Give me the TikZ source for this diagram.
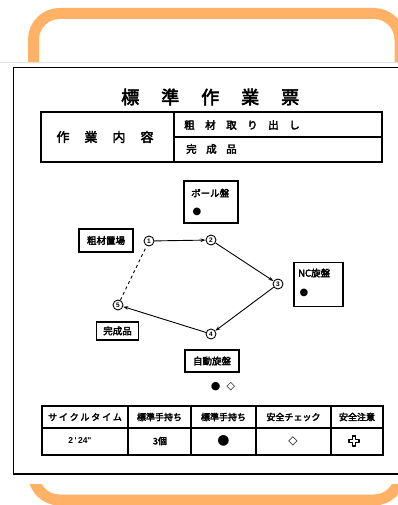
\documentclass[tikz,border=0pt]{standalone}
\usepackage{fontspec}
\usetikzlibrary{arrows.meta}
\newfontfamily\jp{Noto Sans CJK JP}[AutoFakeBold=3]
\newfontfamily\dv{DejaVu Sans}
\newfontfamily\lib{Liberation Sans}
\definecolor{frameor}{HTML}{FFB266}
\tikzset{
  frame/.style={draw=frameor, line width=11pt, rounded corners=26pt},
  rule/.style={draw=black, line width=1.3pt},
  lbox/.style={draw=black, line width=1.1pt, fill=white, inner sep=3pt, font=\jp\bfseries\fontsize{9.5}{10}\selectfont},
  stn/.style={circle, draw=black, line width=0.9pt, fill=white, minimum size=10pt, inner sep=0pt, font=\lib\bfseries\fontsize{6.5}{7}\selectfont},
  arr/.style={draw=black, line width=0.9pt, -{Stealth[length=5pt,width=3.5pt]}},
  dsh/.style={draw=black, line width=0.9pt, dashed},
  cell/.style={font=\jp\bfseries\fontsize{9}{10}\selectfont, inner sep=0pt},
  crossmark/.style={draw=black, line width=1.4pt, fill=white, line join=round},
}
\begin{document}
\begin{tikzpicture}[x=1pt,y=-1pt]
\useasboundingbox (0,0) rectangle (398,505);
% orange rounded frame
\draw[frame] (33.5,13.5) rectangle (400,500);
% scanned sheet
\fill[white] (0,62) rectangle (398,484);
\draw[black!12, line width=0.6pt] (0,62) -- (398,62);
% document border
\draw[draw=black, line width=1.1pt] (398,67.5) -- (13.5,67.5) -- (13.5,474) -- (398,474);
% title
\node[anchor=west, inner sep=0pt] (title) at (121,97) {\jp\bfseries\fontsize{18}{18}\selectfont 標\hspace{22pt}準\hspace{22pt}作\hspace{22pt}業\hspace{22pt}票};
% header table
\draw[rule] (41,112) rectangle (382,162);
\draw[rule] (174,112) -- (174,162);
\draw[rule] (174,137) -- (382,137);
\node[inner sep=0pt] (hl) at (105,137) {\jp\bfseries\fontsize{13}{13}\selectfont 作\hspace{15pt}業\hspace{15pt}内\hspace{15pt}容};
\node[anchor=west, inner sep=0pt] (hr1) at (184,125) {\jp\bfseries\fontsize{10.5}{11}\selectfont 粗\hspace{10.5pt}材\hspace{10.5pt}取\hspace{10.5pt}り\hspace{10.5pt}出\hspace{10.5pt}し};
\node[anchor=west, inner sep=0pt] (hr2) at (186,149) {\jp\bfseries\fontsize{10.5}{11}\selectfont 完\hspace{9.5pt}成\hspace{9.5pt}品};
% machine / place boxes
\node[lbox, minimum width=54pt, minimum height=42pt] (ball) at (211,202) {};
\node[anchor=west, inner sep=0pt, font=\jp\bfseries\fontsize{9.5}{10}\selectfont] (ballt) at (191,193) {ボール盤};
\node[inner sep=0pt, font=\dv\fontsize{10}{10}\selectfont] (balld) at (197,212) {●};
\node[lbox, minimum width=54pt, minimum height=23pt] (raw) at (106,240.5) {粗材置場};
\node[lbox, minimum width=49pt, minimum height=44pt] (nc) at (318.5,284.5) {};
\node[anchor=west, inner sep=0pt, font=\jp\bfseries\fontsize{9.5}{10}\selectfont] (nct) at (298,273) {NC旋盤};
\node[inner sep=0pt, font=\dv\fontsize{10}{10}\selectfont] (ncd) at (304,293) {●};
\node[lbox, minimum width=42pt, minimum height=18pt] (fin) at (117.5,331) {完成品};
\node[lbox, minimum width=54pt, minimum height=22pt] (auto) at (212,361) {自動旋盤};
% stations
\node[stn] (n1) at (149,241) {1};
\node[stn] (n2) at (211,240) {2};
\node[stn] (n3) at (278,284) {3};
\node[stn] (n4) at (211,334) {4};
\node[stn] (n5) at (118,305) {5};
\draw[arr] (n1) -- (n2);
\draw[arr] (n2) -- (n3);
\draw[arr] (n3) -- (n4);
\draw[arr] (n4) -- (n5);
\draw[dsh] (n5) -- (n1);
% legend
\node[inner sep=0pt, font=\dv\fontsize{11}{11}\selectfont] (legend) at (223,387) {●\hspace{6pt}◇};
% bottom table
\draw[rule] (42,406) rectangle (383,455);
\draw[rule] (42,428) -- (383,428);
\foreach \x in {128,191,256,331} \draw[rule] (\x,406) -- (\x,455);
\node[cell] (c1) at (85,417) {サ\hspace{1.8pt}イ\hspace{1.8pt}ク\hspace{1.8pt}ル\hspace{1.8pt}タ\hspace{1.8pt}イ\hspace{1.8pt}ム};
\node[cell] (c2) at (159.5,417) {標準手持ち};
\node[cell] (c3) at (223.5,417) {標準手持ち};
\node[cell] (c4) at (293.5,417) {安全チェック};
\node[cell] (c5) at (357,417) {安全注意};
\node[inner sep=0pt, font=\lib\bfseries\fontsize{8.5}{9}\selectfont] (v1) at (80,441) {2\,'\,24"};
\node[cell] (v2) at (160,441) {3個};
\node[inner sep=0pt, font=\dv\fontsize{14}{14}\selectfont] (v3) at (223.5,441) {●};
\node[inner sep=0pt, font=\dv\fontsize{12}{12}\selectfont] (v4) at (293,441) {◇};
\coordinate (v5) at (354,441);
\draw[crossmark] ([shift={(-1.7,-5)}]v5) -- ++(3.4,0) -- ++(0,3.3) -- ++(3.3,0) -- ++(0,3.4)
  -- ++(-3.3,0) -- ++(0,3.3) -- ++(-3.4,0) -- ++(0,-3.3) -- ++(-3.3,0) -- ++(0,-3.4) -- ++(3.3,0) -- cycle;
\end{tikzpicture}
\end{document}
